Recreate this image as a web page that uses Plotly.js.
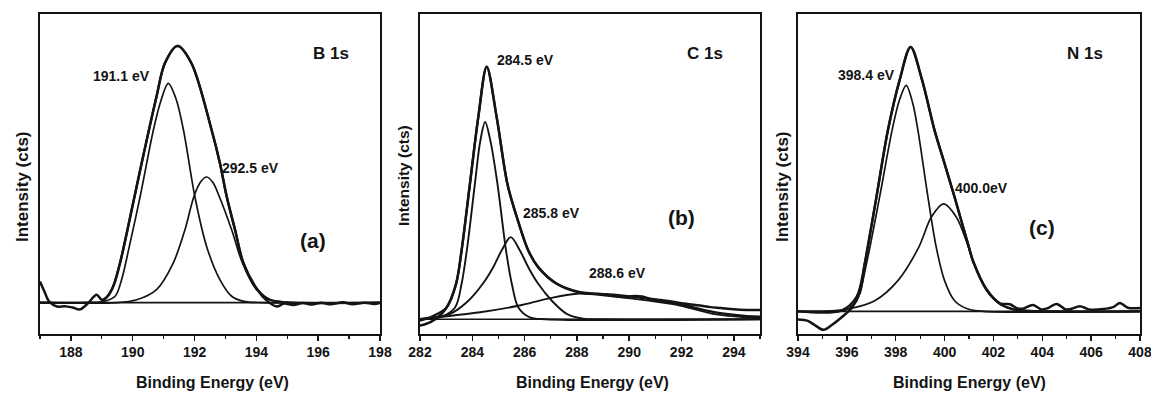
<!DOCTYPE html>
<html>
<head>
<meta charset="utf-8">
<script src="https://cdn.plot.ly/plotly-3.0.1.min.js"></script>
<style>html,body{margin:0;padding:0;background:#fff;}#chart{width:1151px;height:393px;}</style>
</head>
<body>
<div id="chart"></div>
<script>
// ---------- Panel (a) B 1s ----------
const aRawX = [187.0,187.15,187.3,187.55,187.8,188.05,188.3,188.55,188.83,189.0,189.2,189.4,189.6,189.83,190.29,190.77,191.04,191.45,191.9,192.55,192.82,193.04,193.31,193.58,194.03,194.33,194.65,194.9,195.2,195.5,195.8,196.1,196.4,196.8,197.1,197.5,197.8,198.0];
const aRawY = [16.3,13.0,10.0,8.5,8.6,8.2,7.6,9.5,12.2,10.6,11.8,15.5,22.5,32.5,53.4,74.2,84.6,90.0,84.6,63.8,53.4,42.9,32.5,22.1,13.8,10.4,8.5,9.4,9.0,9.6,9.1,9.7,9.2,9.8,9.2,9.7,9.3,9.6];
const aEnvX = [187.0,188.6,189.0,189.32,189.59,189.83,190.29,190.77,191.04,191.45,191.9,192.55,192.82,193.04,193.31,193.58,194.03,194.44,195.0,198.0];
const aEnvY = [9.7,9.7,10.0,13.8,22.2,32.5,53.4,74.2,84.6,90.0,84.6,63.8,53.4,42.9,32.5,22.1,13.8,10.6,9.8,9.7];
const aC1X = [187.0,188.6,189.0,189.43,189.64,189.89,190.24,190.67,190.9,191.15,191.4,191.64,192.01,192.39,192.82,193.2,193.6,194.2,198.0];
const aC1Y = [9.7,9.7,9.9,11.7,16.9,27.3,42.9,63.8,72.5,78.3,73.5,63.8,42.9,27.3,16.9,11.7,10.1,9.7,9.7];
const aC2X = [187.0,189.5,190.13,190.77,191.31,191.69,191.98,192.2,192.39,192.6,192.8,193.2,193.55,194.0,194.44,195.0,198.0];
const aC2Y = [9.7,9.7,10.6,13.8,22.1,32.5,42.9,47.5,49.0,47.2,42.9,32.5,22.1,13.8,10.6,9.8,9.7];
const aBaseX = [187.0,198.0];
const aBaseY = [9.7,9.7];

// ---------- Panel (b) C 1s ----------
const bRawX = [282.0,282.4,282.8,283.02,283.38,283.59,283.91,284.23,284.55,284.93,285.34,285.7,286.14,286.52,287.23,288.12,288.6,289.0,289.4,289.8,290.2,290.5,290.8,291.2,291.6,291.94,292.3,292.7,293.1,293.5,294.0,294.5,295.0];
const bRawY = [2.5,3.6,6.0,8.2,15.6,26.0,46.9,67.8,83.5,67.8,46.9,36.5,26.0,20.8,15.6,13.0,12.6,12.3,11.9,11.5,11.8,11.6,10.9,10.5,10.1,9.6,9.2,8.8,8.3,8.0,7.6,7.4,7.4];
const bEnvX = [282.0,282.38,283.02,283.38,283.59,283.91,284.23,284.55,284.93,285.34,285.7,286.14,286.52,287.23,288.12,289.4,290.67,291.94,293.2,294.5,295.0];
const bEnvY = [4.1,5.1,8.2,15.6,26.0,46.9,67.8,83.5,67.8,46.9,36.5,26.0,20.8,15.6,12.8,12.2,11.0,9.2,6.8,5.5,5.3];
const bC1X = [282.0,282.76,283.34,283.59,283.79,284.1,284.3,284.49,284.7,284.96,285.29,285.51,285.76,286.2,286.8,295.0];
const bC1Y = [4.5,5.1,8.2,15.6,26.0,46.9,60.0,66.2,60.0,46.9,26.0,15.6,8.2,5.1,4.5,4.5];
const bC2X = [282.0,283.15,283.85,284.4,284.8,285.12,285.47,285.82,286.14,286.52,287.04,287.61,288.23,289.0,295.0];
const bC2Y = [4.6,6.2,10.3,15.6,20.8,26.0,30.2,26.0,20.8,15.6,10.3,6.2,4.7,4.5,4.5];
const bC3X = [282.0,284.3,285.8,286.85,288.0,289.4,290.67,291.94,293.2,294.5,295.0];
const bC3Y = [4.6,6.7,8.8,10.9,12.5,11.6,10.4,8.8,6.2,5.1,4.9];
const bBaseX = [282.0,295.0];
const bBaseY = [4.5,4.5];

// ---------- Panel (c) N 1s ----------
const cRawX = [394.0,394.4,394.7,395.04,395.4,395.86,396.2,396.54,396.73,397.21,397.68,398.16,398.61,399.08,399.59,400.0,400.41,400.96,401.18,401.72,402.27,402.68,402.95,403.2,403.62,403.95,404.2,404.59,404.95,405.2,405.54,405.9,406.5,406.9,407.18,407.5,408.0];
const cRawY = [4.4,4.0,2.6,1.2,2.8,5.6,8.0,13.0,21.8,42.7,63.6,79.3,89.7,79.3,63.6,53.2,42.7,28.0,22.4,13.8,9.5,9.2,8.0,7.8,9.0,7.6,7.9,9.3,7.6,7.8,8.6,7.6,7.7,8.3,9.6,8.1,8.0];
const cEnvX = [394.0,395.77,396.39,396.73,397.21,397.68,398.16,398.61,399.08,399.59,400.0,400.41,400.96,401.18,401.72,402.27,402.8,403.5,408.0];
const cEnvY = [7.0,7.2,11.4,21.8,42.7,63.6,79.3,89.7,79.3,63.6,53.2,42.7,28.0,22.4,13.8,9.3,7.7,7.1,7.0];
const cC1X = [394.0,395.5,396.05,396.46,396.8,397.34,397.85,398.15,398.43,398.7,398.91,399.32,399.66,400.0,400.41,400.96,401.6,408.0];
const cC1Y = [7.0,7.0,7.7,11.4,21.8,42.7,63.6,73.0,77.7,72.0,63.6,42.7,27.0,16.6,10.3,7.7,7.0,7.0];
const cC2X = [394.0,395.0,396.05,397.14,398.09,398.94,399.46,399.96,400.48,400.96,401.18,401.72,402.27,402.8,403.5,408.0];
const cC2Y = [7.0,7.0,7.7,10.3,16.6,27.0,36.5,40.6,36.5,27.5,22.5,13.5,9.3,7.6,7.1,7.0];
const cBaseX = [394.0,408.0];
const cBaseY = [7.0,7.0];

// tick values
const aTicks = [188,190,192,194,196,198];
const bTicks = [282,284,286,288,290,292,294];
const cTicks = [394,396,398,400,402,404,406,408];

// ---------- build ----------
const INK = '#141414';
function line(x, y, ax, w) {
  return {x: x, y: y, xaxis: 'x' + ax, yaxis: 'y' + ax, type: 'scatter', mode: 'lines',
    line: {color: INK, width: w, shape: 'spline', smoothing: 0.9}, hoverinfo: 'skip', showlegend: false};
}
const traces = [
  line(aBaseX, aBaseY, '', 1.6), line(aC1X, aC1Y, '', 1.7), line(aC2X, aC2Y, '', 1.7),
  line(aEnvX, aEnvY, '', 2.3), line(aRawX, aRawY, '', 2.5),
  line(bBaseX, bBaseY, '2', 1.7), line(bC1X, bC1Y, '2', 1.9), line(bC2X, bC2Y, '2', 1.9), line(bC3X, bC3Y, '2', 1.9),
  line(bEnvX, bEnvY, '2', 2.3), line(bRawX, bRawY, '2', 2.5),
  line(cBaseX, cBaseY, '3', 1.7), line(cC1X, cC1Y, '3', 1.7), line(cC2X, cC2Y, '3', 1.7),
  line(cEnvX, cEnvY, '3', 2.3), line(cRawX, cRawY, '3', 2.5)
];

const FONT = 'Liberation Sans, Arial, sans-serif';
const yDom = [0.151, 0.9644];
function xax(range, ticks, dom, anchor) {
  return {domain: dom, range: range, anchor: anchor, tickvals: ticks, ticktext: ticks.map(String),
    ticks: 'outside', ticklen: 5, tickwidth: 1.5, tickcolor: INK, ticklabeloverflow: 'allow',
    minor: {dtick: 1, tick0: 0, ticks: 'outside', ticklen: 3, tickwidth: 1.2, tickcolor: INK},
    showline: true, mirror: true, linewidth: 2, linecolor: INK, showgrid: false, zeroline: false,
    tickfont: {family: FONT, size: 14, color: INK, weight: 'bold'}, fixedrange: true};
}
function yax(anchor) {
  return {domain: yDom, range: [0, 100], showticklabels: false, ticks: '', showline: true, mirror: true,
    linewidth: 2, linecolor: INK, showgrid: false, zeroline: false, anchor: anchor, fixedrange: true};
}
function ann(text, px, py, size, angle) {
  return {text: '<b>' + text + '</b>', xref: 'paper', yref: 'paper', x: px / 1151, y: 1 - py / 393,
    xanchor: 'center', yanchor: 'middle', showarrow: false, textangle: angle || 0,
    font: {family: FONT, size: size, color: INK}};
}
const annotations = [
  ann('191.1 eV', 121, 76, 14), ann('292.5 eV', 250, 168, 14), ann('B 1s', 331, 53, 17), ann('(a)', 313, 240, 21),
  ann('284.5 eV', 525, 60, 14), ann('285.8 eV', 551, 213, 14), ann('288.6 eV', 617, 273, 14), ann('C 1s', 705, 53, 17), ann('(b)', 681, 217, 21),
  ann('398.4 eV', 866, 75, 14), ann('400.0eV', 981, 188, 14), ann('N 1s', 1085, 53, 17), ann('(c)', 1042, 227, 21),
  ann('Intensity (cts)', 22, 187, 17, -90), ann('Intensity (cts)', 403, 176, 15.5, -90), ann('Intensity (cts)', 782, 187, 17, -90),
  ann('Binding Energy (eV)', 212, 382, 16), ann('Binding Energy (eV)', 592, 382, 16), ann('Binding Energy (eV)', 969, 382, 16)
];

const layout = {
  width: 1151, height: 393, margin: {l: 0, r: 0, t: 0, b: 0},
  paper_bgcolor: '#ffffff', plot_bgcolor: '#ffffff', showlegend: false,
  xaxis: xax([187, 198], aTicks, [40 / 1151, 380 / 1151], 'y'),
  xaxis2: xax([282, 295], bTicks, [420 / 1151, 760 / 1151], 'y2'),
  xaxis3: xax([394, 408], cTicks, [798 / 1151, 1140 / 1151], 'y3'),
  yaxis: yax('x'), yaxis2: yax('x2'), yaxis3: yax('x3'),
  annotations: annotations
};
Plotly.newPlot('chart', traces, layout, {displayModeBar: false, staticPlot: true});
</script>
</body>
</html>
